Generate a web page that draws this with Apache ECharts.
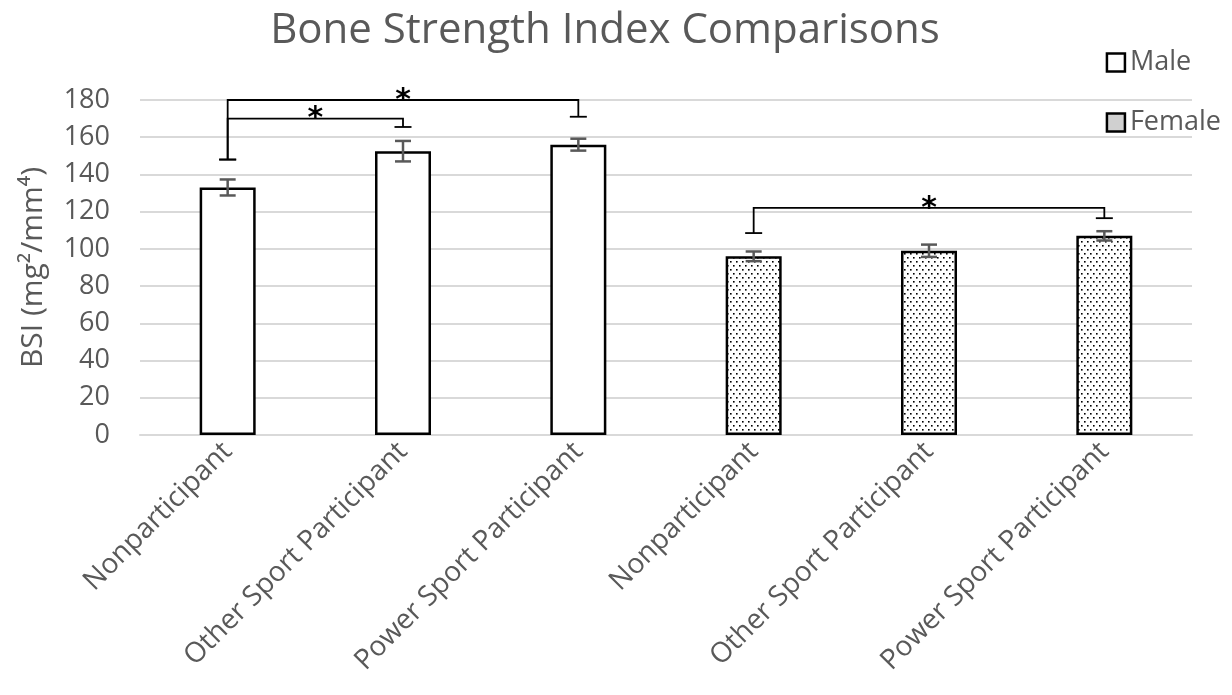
<!DOCTYPE html>
<html>
<head>
<meta charset="utf-8">
<script src="https://cdn.jsdelivr.net/npm/echarts@6/dist/echarts.min.js"></script>
<style>
	html, body { margin: 0; padding: 0; background: #fff; }
	#chart { width: 1232px; height: 695px; }
</style>
</head>
<body>
<div id="chart"></div>
<script>
	// 数据
	var categories = ['Nonparticipant', 'Other Sport Participant', 'Power Sport Participant',
		'Nonparticipant', 'Other Sport Participant', 'Power Sport Participant'];
	var maleValues = [133, 152.5, 156, null, null, null];
	var femaleValues = [null, null, null, 96, 99, 107];
	var errorHalf = [4.3, 5.5, 3.2, 2.6, 3.3, 2.5];
	var yTicks = [0, 20, 40, 60, 80, 100, 120, 140, 160, 180];
	// [起点类目, 终点类目, 横线高度, 左端高度, 右端高度, 标记]
	var brackets = [
		[0, 2, 180, 148, 171, '*'],
		[0, 1, 170, 148, 165.5, '*'],
		[3, 5, 122, 108.5, 116.5, '*']
	];

	var textColor = '#595959';
	var gridColor = '#d9d9d9';
	var fontFamily = 'Open Sans, sans-serif';

	// 点状填充图案
	function dotPattern() {
		var c = document.createElement('canvas');
		c.width = 6;
		c.height = 8;
		var ctx = c.getContext('2d');
		ctx.fillStyle = '#ffffff';
		ctx.fillRect(0, 0, 6, 8);
		ctx.fillStyle = '#000000';
		ctx.fillRect(1, 1, 1.6, 1.6);
		ctx.fillRect(4, 5, 1.6, 1.6);
		return c;
	}

	var errorData = [];
	for(var i = 0; i < categories.length; i++) {
		var v = maleValues[i] != null ? maleValues[i] : femaleValues[i];
		errorData.push([i, v - errorHalf[i], v + errorHalf[i]]);
	}

	var myChart = echarts.init(document.getElementById('chart'));
	var option = {
		animation: false,
		title: {
			text: 'Bone Strength Index Comparisons',
			left: 600,
			textAlign: 'center',
			top: 5,
			textStyle: {
				color: textColor,
				fontSize: 42,
				fontWeight: 'normal',
				fontFamily: fontFamily
			}
		},
		legend: {
			orient: 'vertical',
			right: 6,
			top: 44,
			itemGap: 33,
			itemWidth: 18,
			itemHeight: 18,
			data: [{
				name: 'Male',
				icon: 'rect',
				itemStyle: { color: '#fff', borderColor: '#000', borderWidth: 2.5 }
			}, {
				name: 'Female',
				icon: 'rect',
				itemStyle: { color: '#d0d0d0', borderColor: '#000', borderWidth: 2.5 }
			}],
			textStyle: {
				color: textColor,
				fontSize: 27,
				fontFamily: fontFamily
			}
		},
		grid: {
			left: 140,
			right: 40,
			top: 100,
			bottom: 260
		},
		xAxis: {
			type: 'category',
			data: categories,
			axisTick: { show: false },
			axisLine: { lineStyle: { color: gridColor, width: 2 } },
			axisLabel: {
				rotate: 45,
				interval: 0,
				margin: 12,
				color: textColor,
				fontSize: 28,
				fontFamily: fontFamily
			}
		},
		yAxis: {
			type: 'value',
			min: yTicks[0],
			max: yTicks[yTicks.length - 1],
			interval: 20,
			name: 'BSI (mg\u00b2/mm\u2074)',
			nameLocation: 'middle',
			nameGap: 92,
			nameTextStyle: {
				color: textColor,
				fontSize: 30,
				fontFamily: fontFamily
			},
			axisLine: { show: false },
			axisTick: { show: false },
			axisLabel: {
				margin: 30,
				color: textColor,
				fontSize: 27,
				fontFamily: fontFamily
			},
			splitLine: { lineStyle: { color: gridColor, width: 2 } }
		},
		series: [{
			name: 'Male',
			type: 'bar',
			data: maleValues,
			barWidth: 56,
			barGap: '-100%',
			itemStyle: { color: '#fff', borderColor: '#000', borderWidth: 2.5 }
		}, {
			name: 'Female',
			type: 'bar',
			data: femaleValues,
			barWidth: 56,
			barGap: '-100%',
			itemStyle: {
				color: { image: dotPattern(), repeat: 'repeat' },
				borderColor: '#000',
				borderWidth: 2.5
			}
		}, {
			name: 'error',
			type: 'custom',
			z: 5,
			data: errorData,
			renderItem: function(params, api) {
				var lo = api.coord([api.value(0), api.value(1)]);
				var hi = api.coord([api.value(0), api.value(2)]);
				var w = 8;
				var style = { stroke: '#595959', lineWidth: 2.5 };
				return {
					type: 'group',
					children: [
						{ type: 'line', shape: { x1: lo[0], y1: lo[1], x2: hi[0], y2: hi[1] }, style: style },
						{ type: 'line', shape: { x1: lo[0] - w, y1: lo[1], x2: lo[0] + w, y2: lo[1] }, style: style },
						{ type: 'line', shape: { x1: hi[0] - w, y1: hi[1], x2: hi[0] + w, y2: hi[1] }, style: style }
					]
				};
			}
		}, {
			name: 'bracket',
			type: 'custom',
			z: 6,
			data: brackets,
			renderItem: function(params, api) {
				var a = api.coord([api.value(0), api.value(2)]);
				var b = api.coord([api.value(1), api.value(2)]);
				var aEnd = api.coord([api.value(0), api.value(3)]);
				var bEnd = api.coord([api.value(1), api.value(4)]);
				var w = 8.5;
				var style = { stroke: '#000', lineWidth: 1.8 };
				return {
					type: 'group',
					children: [
						{ type: 'polyline', shape: { points: [aEnd, a, b, bEnd] }, style: { stroke: '#000', lineWidth: 1.8, fill: null } },
						{ type: 'line', shape: { x1: aEnd[0] - w, y1: aEnd[1], x2: aEnd[0] + w, y2: aEnd[1] }, style: style },
						{ type: 'line', shape: { x1: bEnd[0] - w, y1: bEnd[1], x2: bEnd[0] + w, y2: bEnd[1] }, style: style },
						{
							type: 'text',
							style: {
								text: brackets[params.dataIndex][5],
								x: (a[0] + b[0]) / 2,
								y: a[1] + 16,
								align: 'center',
								verticalAlign: 'bottom',
								fill: '#000',
								fontSize: 30,
								fontWeight: 'bold',
								fontFamily: 'DejaVu Sans, sans-serif'
							}
						}
					]
				};
			}
		}]
	};
	myChart.setOption(option);
	window.onresize = function() {
		myChart.resize();
	};
</script>
</body>
</html>
